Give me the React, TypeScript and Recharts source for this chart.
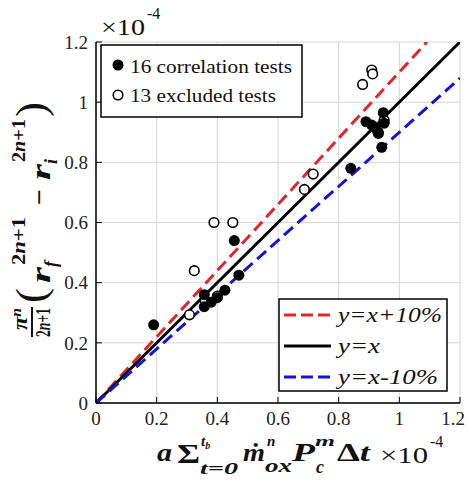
import React from 'react';
import {
  ComposedChart, Scatter, Line, XAxis, YAxis, CartesianGrid,
} from 'recharts';

// axis ticks (values are in units of 1e-4)
const ticks = [0, 0.2, 0.4, 0.6, 0.8, 1, 1.2];
const tickLabels = ['0', '0.2', '0.4', '0.6', '0.8', '1', '1.2'];

// 16 correlation tests (filled)
const corrX = [0.19, 0.357, 0.357, 0.38, 0.4, 0.425, 0.456, 0.471, 0.84, 0.89, 0.909, 0.92, 0.947, 0.95, 0.931, 0.942];
const corrY = [0.26, 0.36, 0.32, 0.335, 0.35, 0.375, 0.54, 0.425, 0.78, 0.935, 0.924, 0.915, 0.965, 0.93, 0.896, 0.85];

// 13 excluded tests (open)
const exclX = [0.308, 0.324, 0.36, 0.389, 0.4, 0.451, 0.687, 0.716, 0.879, 0.909, 0.912, 0.93, 0.95];
const exclY = [0.293, 0.44, 0.34, 0.6, 0.355, 0.6, 0.71, 0.761, 1.059, 1.107, 1.094, 0.9, 0.94];

// reference lines: end points
const plusX = [0, 1.0909];
const plusY = [0, 1.2];
const idX = [0, 1.2];
const idY = [0, 1.2];
const minusX = [0, 1.2];
const minusY = [0, 1.08];

const zip = (xs: number[], ys: number[]) => xs.map((x, i) => ({ x, y: ys[i] }));

const corrData = zip(corrX, corrY);
const exclData = zip(exclX, exclY);
const plusData = zip(plusX, plusY);
const idData = zip(idX, idY);
const minusData = zip(minusX, minusY);

const RED = '#e0262b';
const BLUE = '#1515d0';
const SERIF = 'Liberation Serif, Tinos, Times New Roman, DejaVu Serif, serif';

const FilledDot = (p: any) => <circle cx={p.cx} cy={p.cy} r={5.5} fill="#000" />;
const OpenDot = (p: any) => <circle cx={p.cx} cy={p.cy} r={4.8} fill="#fff" stroke="#000" strokeWidth={1.6} />;

const tickStyle = { fill: '#222', fontSize: 19, fontFamily: SERIF };
const fmt = (_v: number, i: number) => tickLabels[i];

// bottom tick: last label nudged in so it stays inside the page
const XTick = (p: any) => {
  const last = p.index === tickLabels.length - 1;
  return (
    <text x={last ? p.x - 7 : p.x} y={p.y} dy="0.71em" textAnchor="middle" {...tickStyle}>
      {tickLabels[p.index]}
    </text>
  );
};

function Overlay() {
  const math = { fontFamily: SERIF, fontWeight: 700, fontStyle: 'italic' as const, fill: '#111' };
  const adj = 'spacingAndGlyphs';
  return (
    <svg width={470} height={480} style={{ position: 'absolute', left: 0, top: 0, pointerEvents: 'none', fontFamily: SERIF }}>
      {/* exponent labels */}
      <text x={101} y={35} fontSize={23} fill="#111" textLength={44} lengthAdjust={adj}>×10</text>
      <text x={147} y={19} fontSize={16} fill="#111">-4</text>
      <text x={380} y={463} fontSize={23} fill="#111" textLength={48} lengthAdjust={adj}>×10</text>
      <text x={430} y={447} fontSize={16} fill="#111">-4</text>

      {/* x axis label */}
      <g {...math}>
        <text x={157} y={461} fontSize={26} textLength={15} lengthAdjust={adj}>a</text>
        <text x={177} y={463} fontSize={27} fontStyle="normal" textLength={23} lengthAdjust={adj}>Σ</text>
        <text x={201} y={446} fontSize={15}>t<tspan fontSize={10} dy={3}>b</tspan></text>
        <text x={200} y={474} fontSize={17} textLength={38} lengthAdjust={adj}>t=0</text>
        <text x={243} y={461} fontSize={26} textLength={22} lengthAdjust={adj}>ṁ</text>
        <text x={267} y={446} fontSize={15}>n</text>
        <text x={265} y={472} fontSize={19} textLength={27} lengthAdjust={adj}>ox</text>
        <text x={292} y={461} fontSize={26} textLength={23} lengthAdjust={adj}>P</text>
        <text x={315} y={446} fontSize={15} textLength={20} lengthAdjust={adj}>m</text>
        <text x={316} y={473} fontSize={18}>c</text>
        <text x={337} y={461} fontSize={26} textLength={33} lengthAdjust={adj}><tspan fontStyle="normal">Δ</tspan>t</text>
      </g>

      {/* y axis label (rotated) */}
      <g transform="translate(50,337) rotate(-90)" {...math}>
        <text x={0} y={0} fontSize={22} fontStyle="normal" textLength={29} lengthAdjust={adj}>2<tspan fontStyle="italic">n</tspan>+1</text>
        <line x1={0} x2={30} y1={-18} y2={-18} stroke="#111" strokeWidth={2} />
        <text x={7} y={-23} fontSize={22} textLength={22} lengthAdjust={adj}>π<tspan fontSize={14} dy={-6}>n</tspan></text>
        <text x={34} y={-5} fontSize={42} fontStyle="normal" fontWeight={400} textLength={15} lengthAdjust={adj}>(</text>
        <text x={54} y={0} fontSize={28} textLength={16} lengthAdjust={adj}>r</text>
        <text x={70} y={7} fontSize={18}>f</text>
        <text x={72} y={-25} fontSize={18} fontStyle="normal" textLength={48} lengthAdjust={adj}>2<tspan fontStyle="italic">n</tspan>+1</text>
        <text x={132} y={-2} fontSize={26} fontStyle="normal" textLength={16} lengthAdjust={adj}>−</text>
        <text x={157} y={0} fontSize={28} textLength={16} lengthAdjust={adj}>r</text>
        <text x={173} y={7} fontSize={18}>i</text>
        <text x={175} y={-25} fontSize={18} fontStyle="normal" textLength={43} lengthAdjust={adj}>2<tspan fontStyle="italic">n</tspan>+1</text>
        <text x={220} y={-5} fontSize={42} fontStyle="normal" fontWeight={400} textLength={15} lengthAdjust={adj}>)</text>
      </g>

      {/* legend: tests */}
      <rect x={101} y={45} width={201} height={72} fill="#fff" stroke="#000" strokeWidth={1.5} />
      <circle cx={118} cy={65} r={5.5} fill="#000" />
      <text x={130} y={73} fontSize={19} fill="#111" textLength={162} lengthAdjust={adj}>16 correlation tests</text>
      <circle cx={118} cy={95} r={4.8} fill="#fff" stroke="#000" strokeWidth={1.6} />
      <text x={130} y={102} fontSize={19} fill="#111" textLength={146} lengthAdjust={adj}>13 excluded tests</text>

      {/* legend: lines */}
      <rect x={279} y={299} width={168} height={92} fill="#fff" stroke="#000" strokeWidth={1.5} />
      <line x1={284} x2={331} y1={315} y2={315} stroke={RED} strokeWidth={3} strokeDasharray="12 5" />
      <text x={338} y={322} fontStyle="italic" fontSize={22} fill="#111" textLength={104} lengthAdjust={adj}>y=x+10%</text>
      <line x1={284} x2={331} y1={346} y2={346} stroke="#000" strokeWidth={3} />
      <text x={338} y={353} fontStyle="italic" fontSize={22} fill="#111" textLength={42} lengthAdjust={adj}>y=x</text>
      <line x1={284} x2={331} y1={377} y2={377} stroke={BLUE} strokeWidth={3} strokeDasharray="12 5" />
      <text x={338} y={384} fontStyle="italic" fontSize={22} fill="#111" textLength={100} lengthAdjust={adj}>y=x-10%</text>
    </svg>
  );
}

export default function App() {
  return (
    <div style={{ position: 'absolute', left: 0, top: 0, width: 470, height: 480, background: '#fff', fontFamily: SERIF }}>
      <ComposedChart width={470} height={480} margin={{ top: 42, right: 10, bottom: 47, left: 0 }}>
        <CartesianGrid stroke="#d6d6d6" strokeWidth={1} />
        <XAxis
          type="number" dataKey="x" domain={[0, 1.2]} ticks={ticks} allowDataOverflow
          height={30} tickSize={-6} tickMargin={15} tick={XTick}
          axisLine={{ stroke: '#000', strokeWidth: 1.5 }} tickLine={{ stroke: '#000' }} interval={0}
        />
        <XAxis
          xAxisId="top" orientation="top" type="number" domain={[0, 1.2]} ticks={ticks} allowDataOverflow
          height={0} tickSize={-6} tick={false}
          axisLine={{ stroke: '#000', strokeWidth: 1.5 }} tickLine={{ stroke: '#000' }}
        />
        <YAxis
          type="number" dataKey="y" domain={[0, 1.2]} ticks={ticks} allowDataOverflow
          width={96} tickSize={-6} tickMargin={14} tick={tickStyle} tickFormatter={fmt}
          axisLine={{ stroke: '#000', strokeWidth: 1.5 }} tickLine={{ stroke: '#000' }} interval={0}
        />
        <YAxis
          yAxisId="right" orientation="right" type="number" domain={[0, 1.2]} ticks={ticks} allowDataOverflow
          width={0} tickSize={-6} tick={false}
          axisLine={{ stroke: '#000', strokeWidth: 1.5 }} tickLine={{ stroke: '#000' }}
        />
        <Scatter data={exclData} shape={OpenDot} isAnimationActive={false} />
        <Scatter data={corrData} shape={FilledDot} isAnimationActive={false} />
        <Line data={plusData} dataKey="y" type="linear" stroke={RED} strokeWidth={3} strokeDasharray="12 6" dot={false} isAnimationActive={false} />
        <Line data={idData} dataKey="y" type="linear" stroke="#000" strokeWidth={3} dot={false} isAnimationActive={false} />
        <Line data={minusData} dataKey="y" type="linear" stroke={BLUE} strokeWidth={3} strokeDasharray="12 6" dot={false} isAnimationActive={false} />
      </ComposedChart>
      <Overlay />
    </div>
  );
}
